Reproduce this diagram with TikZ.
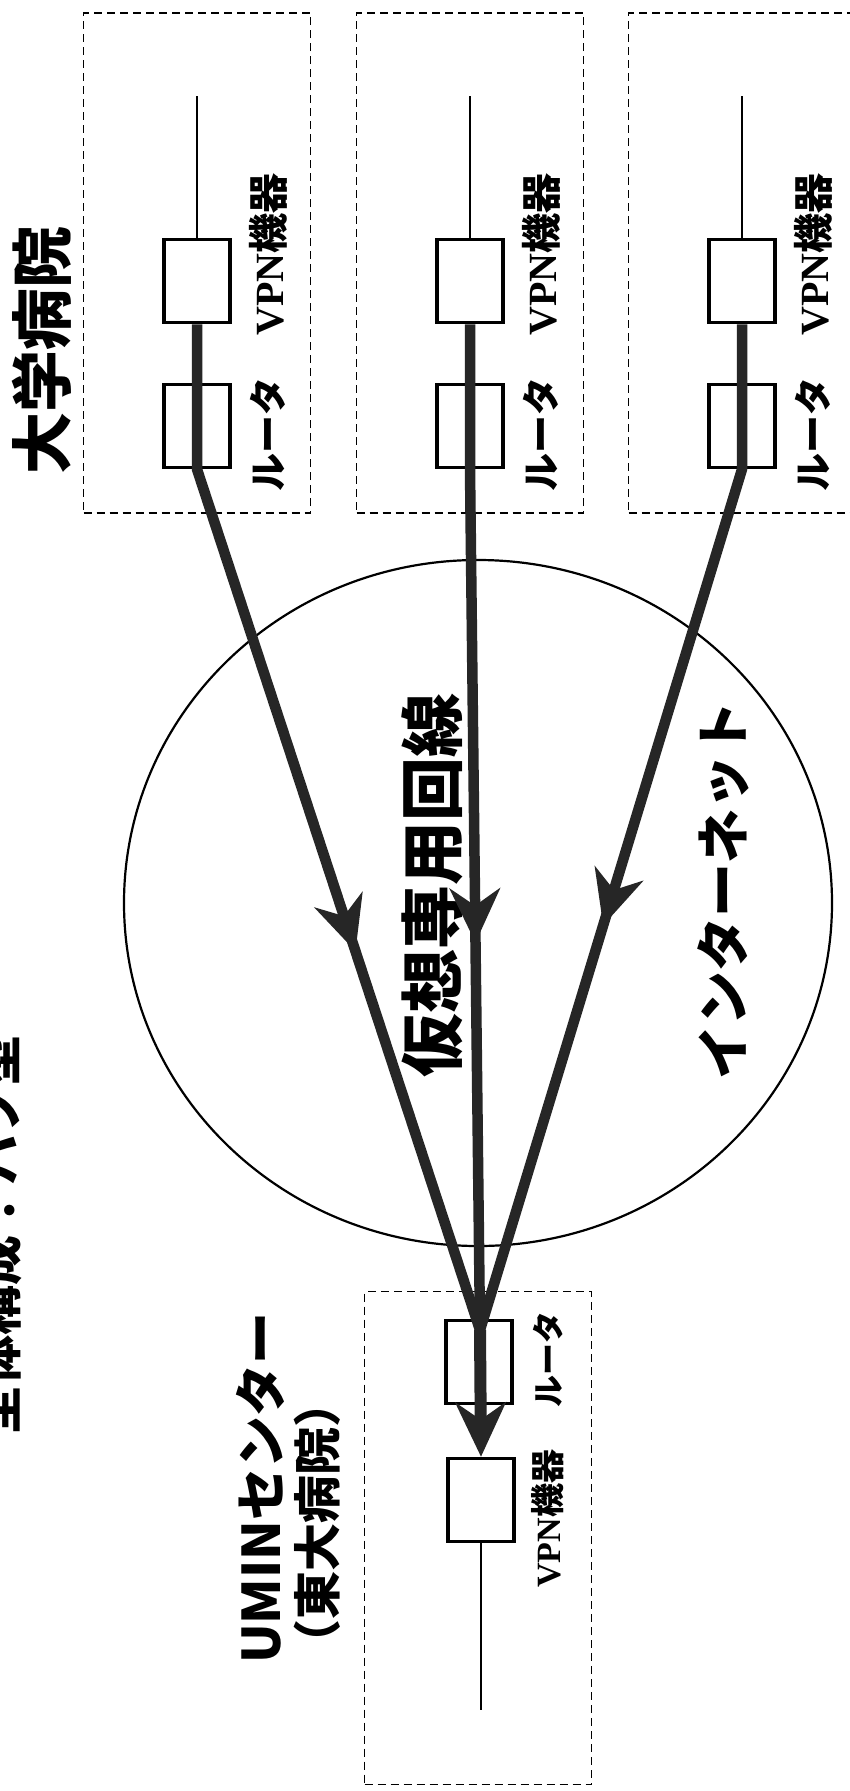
\documentclass[tikz,border=0pt]{standalone}
\usepackage{fontspec}
\setmainfont{Noto Sans CJK JP}
\newfontfamily\latinserif{Liberation Serif}[BoldFont={Liberation Serif Bold}]
\usetikzlibrary{arrows.meta,calc,shapes.geometric}
\newcommand\fsz[1]{\fontsize{#1}{#1}\selectfont}

\begin{document}
\begin{tikzpicture}[x=1pt, y=-1pt,
	site/.style={draw, line width=1.4pt, dash pattern=on 8pt off 5pt, minimum width=227pt, inner sep=0pt},
	devbox/.style={draw, line width=3.5pt, minimum width=66pt, minimum height=83pt, inner sep=0pt},
	pipe/.style={line width=10.5pt, black!85, line join=round},
	wire/.style={line width=1.2pt},
	flowtip/.style={-{Stealth[length=54pt, width=50pt, inset=17pt]}},
	lbl/.style={rotate=90, anchor=west, inner sep=0pt},
	cloud/.style={draw, ellipse, line width=2.2pt, minimum width=708pt, minimum height=686pt, inner sep=0pt}]
	\useasboundingbox (0,0) rectangle (850,1791);
	\clip (0,0) rectangle (850,1791);
	\fill[white] (0,0) rectangle (850,1791);
	\node[rotate=90, inner sep=0pt, font=\fsz{50}\bfseries] (title) at (-3,1235) {全体構成：ハブ型};
	\node[rotate=90, inner sep=0pt, font=\fsz{62}\bfseries] (univ) at (42,350) {大学病院};
	\node[cloud] (net) at (478,903) {};
	\node[rotate=90, inner sep=0pt, font=\fsz{64}\bfseries] (vpnlabel) at (432,885) {仮想専用回線};
	\node[rotate=90, inner sep=0pt, font=\fsz{54}\bfseries] (netlabel) at (723,890) {インターネット};
	\foreach \i/\x in {1/197, 2/470, 3/742} {
		\node[site, minimum height=500pt] (s\i) at (\x,263) {};
		\node[devbox] (v\i) at (\x,281) {};
		\node[devbox] (r\i) at (\x,426) {};
		\coordinate (e\i) at (\x,96);
		\draw[wire] (v\i.north) -- (e\i);
		\node[lbl, font=\fsz{40}\bfseries] (vl\i) at (\x+71,336) {{\latinserif\bfseries VPN}機器};
		\node[lbl, font=\fsz{38}\bfseries] (rl\i) at (\x+71,492) {ルータ};
	}
	\node[site, minimum height=493pt] (umin) at (478,1538) {};
	\node[devbox] (ur) at (479,1362) {};
	\node[devbox] (uv) at (481,1500) {};
	\coordinate (ue) at (481,1710);
	\draw[wire] (uv.south) -- (ue);
	\node[lbl, font=\fsz{34}\bfseries] (uvl) at (548,1588) {{\latinserif\bfseries VPN}機器};
	\node[lbl, font=\fsz{32}\bfseries] (url) at (548,1408) {ルータ};
	\node[lbl, font=\fsz{52}\bfseries] (uminlabel) at (260,1664) {UMINセンター};
	\node[lbl, font=\fsz{48}\bfseries] (todai) at (317,1668) {（東大病院）};
	\coordinate (hub) at (480,1330);
	\foreach \i/\t in {1/0.56, 2/0.55, 3/0.53} {
		\draw[pipe, flowtip] (v\i.south) -- (r\i.south) -- ($(r\i.south)!\t!(hub)$);
		\draw[pipe] ($(r\i.south)!\t-0.04!(hub)$) -- (hub);
	}
	\draw[pipe, line width=12pt, flowtip] (hub) -- (uv.north);
\end{tikzpicture}
\end{document}
